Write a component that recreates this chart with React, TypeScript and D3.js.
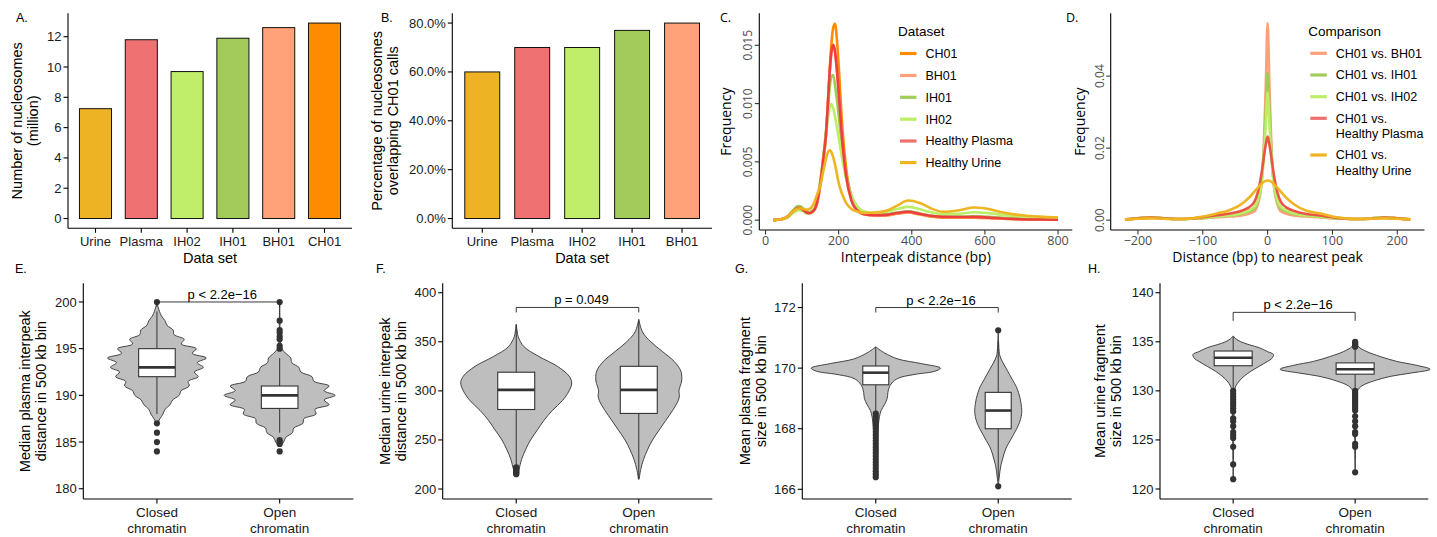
import React from "react";
import * as d3 from "d3";

const SANS = "'Liberation Sans', Arial, Helvetica, sans-serif";
const ALT = "'Open Sans', 'Liberation Sans', sans-serif";
const INK = "#1a1a1a";
const P_SMALL = "p < 2.2e\u221216";

// ---------- A / B: bars ----------
const setsA = ["Urine", "Plasma", "IH02", "IH01", "BH01", "CH01"];
const nucleosomesMillion = [7.25, 11.8, 9.7, 11.9, 12.6, 12.9];
const ticksA = [0, 2, 4, 6, 8, 10, 12];

const setsB = ["Urine", "Plasma", "IH02", "IH01", "BH01"];
const overlapPct = [60, 70, 70, 77, 80];
const ticksB = [0, 20, 40, 60, 80];

const barFill: Record<string, string> = {
  Urine: "#EEB324",
  Plasma: "#F07171",
  IH02: "#C0EE6A",
  IH01: "#A3CB5B",
  BH01: "#FFA27A",
  CH01: "#FF8C00",
};

// ---------- C: interpeak distance density (x 0.001) ----------
const interpeakBp = [22, 40, 60, 75, 90, 100, 110, 120, 130, 140, 150, 160, 165, 170, 175, 180, 185, 190, 195, 200, 210, 220, 235, 250, 270, 300, 330, 360, 390, 420, 450, 485, 530, 570, 610, 650, 700, 750, 800];
const freqCH01 = [0, 0.05, 0.3, 0.75, 1.05, 0.95, 0.75, 0.65, 0.75, 1.35, 3.0, 5.6, 7.2, 9.8, 12.6, 15.0, 16.5, 16.85, 15.6, 13.3, 8.0, 4.6, 1.9, 0.9, 0.5, 0.4, 0.4, 0.55, 0.65, 0.5, 0.32, 0.22, 0.2, 0.22, 0.18, 0.12, 0.08, 0.05, 0.04];
const freqBH01 = [0, 0.05, 0.3, 0.75, 1.05, 0.95, 0.72, 0.62, 0.75, 1.35, 3.1, 5.7, 7.1, 9.5, 12.3, 14.3, 14.9, 14.4, 12.9, 10.9, 6.7, 3.8, 1.65, 0.82, 0.48, 0.4, 0.42, 0.58, 0.68, 0.52, 0.35, 0.25, 0.24, 0.25, 0.2, 0.13, 0.08, 0.05, 0.03];
const freqIH01 = [0, 0.05, 0.3, 0.85, 1.2, 1.1, 0.8, 0.7, 0.85, 1.6, 3.4, 6.0, 7.5, 9.3, 11.2, 12.3, 12.45, 11.6, 10.4, 9.0, 6.2, 4.0, 2.1, 1.2, 0.7, 0.5, 0.5, 0.65, 0.75, 0.6, 0.4, 0.3, 0.3, 0.32, 0.28, 0.2, 0.13, 0.1, 0.08];
const freqIH02 = [0, 0.04, 0.22, 0.6, 0.85, 0.8, 0.6, 0.55, 0.7, 1.5, 3.3, 5.9, 7.2, 8.6, 9.6, 9.95, 9.6, 8.9, 8.0, 7.1, 5.2, 3.6, 2.0, 1.15, 0.75, 0.6, 0.7, 0.95, 1.14, 0.95, 0.7, 0.52, 0.55, 0.68, 0.6, 0.45, 0.32, 0.25, 0.2];
const freqPlasma = [0, 0.05, 0.28, 0.75, 1.05, 0.95, 0.7, 0.6, 0.75, 1.4, 3.2, 5.8, 7.2, 9.6, 12.5, 14.4, 15.05, 14.5, 13.0, 11.0, 6.8, 3.9, 1.7, 0.85, 0.5, 0.42, 0.45, 0.62, 0.72, 0.55, 0.38, 0.28, 0.27, 0.28, 0.22, 0.14, 0.08, 0.05, 0.03];
const freqUrine = [0, 0.05, 0.28, 0.75, 1.0, 1.0, 0.9, 0.95, 1.3, 2.1, 3.0, 4.5, 5.2, 5.75, 6.0, 5.85, 5.4, 4.8, 4.0, 3.2, 2.2, 1.5, 0.95, 0.75, 0.62, 0.65, 0.8, 1.25, 1.68, 1.5, 1.05, 0.72, 0.85, 1.08, 0.95, 0.65, 0.42, 0.3, 0.23];
const ticksCx = [0, 200, 400, 600, 800];
const ticksCy = [0, 5, 10, 15];

// ---------- D: distance to nearest peak density (x 0.01) ----------
const offsetBp = [-220, -200, -180, -160, -140, -120, -100, -80, -60, -40, -30, -20, -15, -10, -6, -3, 0, 3, 6, 10, 15, 20, 30, 40, 60, 80, 100, 120, 140, 160, 180, 200, 220];
const nearBH01 = [0.02, 0.05, 0.08, 0.05, 0.03, 0.04, 0.05, 0.08, 0.1, 0.13, 0.17, 0.25, 0.45, 0.9, 2.0, 3.6, 5.47, 3.6, 2.0, 0.9, 0.45, 0.25, 0.17, 0.13, 0.1, 0.08, 0.05, 0.04, 0.03, 0.05, 0.08, 0.05, 0.02];
const nearIH01 = [0.02, 0.05, 0.08, 0.05, 0.03, 0.04, 0.06, 0.09, 0.12, 0.17, 0.23, 0.33, 0.5, 0.95, 1.85, 2.95, 4.09, 2.95, 1.85, 0.95, 0.5, 0.33, 0.23, 0.17, 0.12, 0.09, 0.06, 0.04, 0.03, 0.05, 0.08, 0.05, 0.02];
const nearIH02 = [0.02, 0.05, 0.08, 0.05, 0.03, 0.04, 0.06, 0.1, 0.13, 0.19, 0.26, 0.38, 0.55, 0.95, 1.7, 2.6, 3.55, 2.6, 1.7, 0.95, 0.55, 0.38, 0.26, 0.19, 0.13, 0.1, 0.06, 0.04, 0.03, 0.05, 0.08, 0.05, 0.02];
const nearPlasma = [0.02, 0.05, 0.07, 0.05, 0.03, 0.04, 0.08, 0.13, 0.18, 0.26, 0.34, 0.52, 0.78, 1.22, 1.72, 2.08, 2.32, 2.08, 1.72, 1.22, 0.78, 0.52, 0.34, 0.26, 0.17, 0.13, 0.08, 0.04, 0.03, 0.04, 0.07, 0.05, 0.02];
const nearUrine = [0.02, 0.04, 0.05, 0.04, 0.03, 0.04, 0.1, 0.18, 0.27, 0.45, 0.6, 0.8, 0.9, 1.0, 1.06, 1.09, 1.1, 1.09, 1.06, 1.0, 0.9, 0.8, 0.6, 0.45, 0.26, 0.19, 0.1, 0.05, 0.03, 0.04, 0.05, 0.04, 0.02];
const ticksDx = [-200, -100, 0, 100, 200];
const ticksDy = [0, 2, 4];

// ---------- E-H: violins ----------
type Violin = { ys: number[]; dens: number[]; q1: number; med: number; q3: number; lo: number; hi: number; out: number[] };
const chromatin = ["Closed", "Open"];

const eClosed: Violin = {
  ys: [200, 199.5, 199, 198.5, 198, 197.5, 197, 196.5, 196, 195.5, 195, 194.5, 194, 193.5, 193, 192.5, 192, 191.5, 191, 190.5, 190, 189.5, 189, 188.5, 188, 187.5, 187],
  dens: [0, 1, 2.5, 4.5, 8, 10, 16, 17, 27, 24, 39, 35, 49, 40, 46, 37, 41, 31, 32, 24, 22, 15.5, 13, 8, 6, 3, 0.5],
  q1: 192, med: 193, q3: 195, lo: 188, hi: 199, out: [200, 187, 186, 185, 184],
};
const eOpen: Violin = {
  ys: [200, 198, 196, 195, 194.5, 194, 193.5, 193, 192.5, 192, 191.5, 191, 190.5, 190, 189.5, 189, 188.5, 188, 187.5, 187, 186.5, 186, 185.5, 185, 184.5],
  dens: [0, 0.3, 0.5, 2, 6, 11, 12, 19, 21, 32, 34, 49, 44, 55, 44, 49, 35, 36, 24, 23, 14, 12.7, 6, 4, 0],
  q1: 188.6, med: 190, q3: 191, lo: 186, hi: 194, out: [200, 198, 197, 196.7, 196.3, 196, 195.3, 195, 185.2, 185, 184.8, 184],
};
const fClosed: Violin = {
  ys: [368, 360, 355, 345, 335, 325, 315, 308, 300, 290, 280, 270, 260, 250, 240, 230, 220, 215],
  dens: [0, 1, 2, 7.7, 22.7, 41, 52.7, 55.3, 52.7, 46, 36, 27.7, 21, 14.3, 9.3, 5.3, 2.7, 0.5],
  q1: 281, med: 301, q3: 319, lo: 224, hi: 367, out: [222, 221, 220, 219, 218, 217, 216, 215],
};
const fOpen: Violin = {
  ys: [373, 360, 350, 340, 330, 320, 310, 305, 300, 295, 290, 280, 270, 260, 250, 240, 230, 220, 210],
  dens: [0, 3.7, 12, 23.7, 35.3, 42, 42.7, 41.3, 40, 40.5, 39.3, 33.7, 27, 20.3, 13.7, 8.7, 4.7, 2, 0.3],
  q1: 277, med: 301, q3: 325, lo: 210, hi: 372, out: [],
};
const gClosed: Violin = {
  ys: [170.7, 170.5, 170.3, 170.15, 170.0, 169.9, 169.8, 169.7, 169.6, 169.4, 169.2, 169.0, 168.8, 168.6, 168.4, 168.0, 167.5, 167.0, 166.4],
  dens: [0, 8.7, 22, 45, 64, 58.7, 40, 25, 18.7, 13.7, 12, 11.3, 8.7, 5.3, 3.7, 2.3, 1.7, 1.3, 0.3],
  q1: 169.45, med: 169.85, q3: 170.07, lo: 168.55, hi: 170.7,
  out: [168.5, 168.4, 168.3, 168.2, 168.1, 168.0, 167.9, 167.8, 167.7, 167.6, 167.5, 167.4, 167.3, 167.2, 167.1, 167.0, 166.9, 166.8, 166.7, 166.6, 166.5, 166.4],
};
const gOpen: Violin = {
  ys: [171.25, 170.6, 170.4, 170.2, 170.0, 169.8, 169.6, 169.4, 169.2, 169.0, 168.8, 168.6, 168.4, 168.2, 168.0, 167.8, 167.6, 167.4, 167.2, 167.0, 166.8, 166.6, 166.4, 166.1],
  dens: [0, 0.8, 1.7, 4.3, 7.7, 11, 14.3, 17.7, 20, 21.7, 22.7, 23.3, 22.7, 21, 18.3, 15, 11.7, 8.3, 6, 4.3, 2.7, 1.7, 1, 0],
  q1: 168.0, med: 168.6, q3: 169.2, lo: 166.3, hi: 170.9, out: [171.25, 166.1],
};
const hClosed: Violin = {
  ys: [135.6, 135.3, 135, 134.7, 134.4, 134, 133.7, 133.3, 133, 132.5, 132, 131.5, 131, 130.5, 130, 129, 127, 125, 123, 121],
  dens: [0, 2.7, 7.7, 16, 26, 34.3, 40.3, 38.7, 34.3, 26, 17.7, 11, 6, 2.7, 1.3, 0.8, 0.6, 0.5, 0.3, 0.1],
  q1: 132.56, med: 133.38, q3: 134.06, lo: 130.3, hi: 135.5,
  out: [130.0, 129.7, 129.4, 129.1, 128.8, 128.5, 128.2, 127.9, 127.2, 126.9, 126.4, 125.8, 125.5, 125.2, 124.3, 122.5, 121.0],
};
const hOpen: Violin = {
  ys: [135, 134.5, 134, 133.5, 133, 132.6, 132.2, 131.8, 131.5, 131, 130.5, 130, 129, 127, 125, 123, 121.6],
  dens: [0.5, 3.3, 11.7, 25, 41.7, 61.7, 75, 55, 36.7, 18.3, 6.7, 2.3, 1, 0.6, 0.4, 0.3, 0],
  q1: 131.7, med: 132.2, q3: 132.85, lo: 130.2, hi: 134.4,
  out: [134.5, 134.6, 134.7, 134.8, 134.9, 135.0, 130.0, 129.8, 129.6, 129.4, 129.2, 129.0, 128.8, 128.6, 128.4, 128.2, 128.0, 127.4, 126.9, 126.4, 125.8, 125.6, 124.6, 124.3, 121.7],
};

// ---------- shared bits ----------
const TICK = 4.5;

function AxisFrame({ left, right, top, bottom }: any) {
  return (
    <g stroke="#000" strokeWidth={1.1} fill="none">
      <line x1={left} x2={left} y1={top} y2={bottom} />
      <line x1={left} x2={right} y1={bottom} y2={bottom} />
    </g>
  );
}

function YTitle({ x, y, lines, gap = 16, size = 14.5, font = SANS }: any) {
  return (
    <text transform={`translate(${x},${y}) rotate(-90)`} textAnchor="middle" fontFamily={font} fontSize={size} fill="#000">
      {lines.map((l: string, i: number) => (
        <tspan key={i} x={0} y={(i - (lines.length - 1) / 2) * gap + size * 0.35}>{l}</tspan>
      ))}
    </text>
  );
}

function BarPanel({ cats, values, left, right, top, bottom, ticks, fmt, letter, letterX, title, titleX }: any) {
  const x = d3.scaleBand<string>().domain(cats).range([left, right]).paddingInner(0.3).paddingOuter(0.25);
  const mx = d3.max(values as number[])!;
  const y = d3.scaleLinear().domain([-mx * 0.05, mx * 1.05]).range([bottom, top]);
  return (
    <g fontFamily={SANS}>
      {cats.map((c: string, i: number) => (
        <rect key={c} x={x(c)} y={y(values[i])} width={x.bandwidth()} height={y(0) - y(values[i])}
          fill={barFill[c]} stroke="#111" strokeWidth={1} />
      ))}
      <AxisFrame left={left} right={right} top={top} bottom={bottom} />
      {ticks.map((t: number) => (
        <g key={t}>
          <line x1={left - TICK} x2={left} y1={y(t)} y2={y(t)} stroke="#000" strokeWidth={1.1} />
          <text x={left - 6.5} y={y(t)} dy="0.35em" textAnchor="end" fontSize={13} fill={INK}>{fmt(t)}</text>
        </g>
      ))}
      {cats.map((c: string) => {
        const cx = x(c)! + x.bandwidth() / 2;
        return (
          <g key={c}>
            <line x1={cx} x2={cx} y1={bottom} y2={bottom + TICK} stroke="#000" strokeWidth={1.1} />
            <text x={cx} y={246} textAnchor="middle" fontSize={13} fill={INK}>{c}</text>
          </g>
        );
      })}
      <text x={(left + right) / 2} y={263} textAnchor="middle" fontSize={14.5}>Data set</text>
      <YTitle x={titleX} y={(top + bottom) / 2} lines={title} />
      <text x={letterX} y={22} fontSize={12.5}>{letter}</text>
    </g>
  );
}

type Series = { name: string; values: number[]; color: string; key: string; label: string[] };

function DensityPanel({ xs, series, left, right, top, bottom, xDomain, yMax, xTicks, yTicks, yFmt, xFmt, xTitle, letter, letterX, yTitleX, legend }: any) {
  const x = d3.scaleLinear().domain(xDomain).range([left, right]);
  const y = d3.scaleLinear().domain([-yMax * 0.05, yMax * 1.05]).range([bottom, top]);
  const line = d3.line<number>().x((_, i) => x(xs[i])).y((v) => y(v)).curve(d3.curveMonotoneX);
  return (
    <g>
      {series.map((s: Series) => (
        <path key={s.name} d={line(s.values)!} fill="none" stroke={s.color} strokeWidth={2.6} strokeLinejoin="round" />
      ))}
      <AxisFrame left={left} right={right} top={top} bottom={bottom} />
      {yTicks.map((t: number) => (
        <g key={t}>
          <line x1={left - TICK} x2={left} y1={y(t)} y2={y(t)} stroke="#333" strokeWidth={1.1} />
          <text transform={`translate(${left - 7},${y(t)}) rotate(-90)`} textAnchor="middle" fontFamily={ALT} fontSize={12} fill="#4d4d4d">{yFmt(t)}</text>
        </g>
      ))}
      {xTicks.map((t: number) => (
        <g key={t}>
          <line x1={x(t)} x2={x(t)} y1={bottom} y2={bottom + TICK} stroke="#333" strokeWidth={1.1} />
          <text x={x(t)} y={245} textAnchor="middle" fontFamily={ALT} fontSize={12.5} fill="#4d4d4d">{xFmt(t)}</text>
        </g>
      ))}
      <text x={(left + right) / 2} y={262} textAnchor="middle" fontFamily={ALT} fontSize={14}>{xTitle}</text>
      <YTitle x={yTitleX} y={(top + bottom) / 2} lines={["Frequency"]} font={ALT} size={14} />
      <text x={letterX} y={22} fontFamily={ALT} fontSize={12.5}>{letter}</text>
      <g fontFamily={SANS}>
        <text x={legend.x} y={legend.titleY} dy="0.35em" fontSize={13.5}>{legend.title}</text>
        {series.map((s: Series, i: number) => {
          const cy = legend.ys[i];
          return (
            <g key={s.name}>
              <line x1={legend.x + 2} x2={legend.x + 18.5} y1={cy} y2={cy} stroke={s.key} strokeWidth={3.2} />
              {s.label.map((l, j) => (
                <text key={j} x={legend.x + 27.5} y={cy + j * 15.5} dy="0.35em" fontSize={12.5}>{l}</text>
              ))}
            </g>
          );
        })}
      </g>
    </g>
  );
}

function ViolinPanel({ groups, domain, ticks, left, right, top, bottom, halfMax, boxHalf, bracket, tip, pText, title, titleX, letter, letterX }: any) {
  const x = d3.scalePoint<string>().domain(chromatin).range([left, right]).padding(0.6);
  const y = d3.scaleLinear().domain(domain).range([bottom, top]);
  const dmax = d3.max(groups as Violin[], (g) => d3.max(g.dens))!;
  const w = d3.scaleLinear().domain([0, dmax]).range([0, halfMax]);
  const cxs = chromatin.map((c) => x(c)!);
  return (
    <g fontFamily={SANS}>
      {(groups as Violin[]).map((v, gi) => {
        const cx = cxs[gi];
        const area = d3.area<number>()
          .y((_, i) => y(v.ys[i]))
          .x0((d) => cx - w(d))
          .x1((d) => cx + w(d))
          .curve(d3.curveCatmullRom.alpha(0.5));
        return (
          <g key={gi}>
            <path d={area(v.dens)!} fill="#BEBEBE" stroke="#333" strokeWidth={0.9} />
            <line x1={cx} x2={cx} y1={y(v.hi)} y2={y(v.q3)} stroke="#333" strokeWidth={1} />
            <line x1={cx} x2={cx} y1={y(v.q1)} y2={y(v.lo)} stroke="#333" strokeWidth={1} />
            <rect x={cx - boxHalf} y={y(v.q3)} width={boxHalf * 2} height={y(v.q1) - y(v.q3)} fill="#fff" stroke="#333" strokeWidth={1.1} />
            <line x1={cx - boxHalf} x2={cx + boxHalf} y1={y(v.med)} y2={y(v.med)} stroke="#333" strokeWidth={2.6} />
            {v.out.map((o, k) => (
              <circle key={k} cx={cx} cy={y(o)} r={3.1} fill="#333" />
            ))}
          </g>
        );
      })}
      <path d={`M${cxs[0]},${y(bracket) + tip}V${y(bracket)}H${cxs[1]}V${y(bracket) + tip}`} fill="none" stroke="#222" strokeWidth={0.9} />
      <text x={(cxs[0] + cxs[1]) / 2 + 4} y={y(bracket) - 3} textAnchor="middle" fontSize={13}>{pText}</text>
      <AxisFrame left={left} right={right} top={top} bottom={bottom} />
      {ticks.map((t: number) => (
        <g key={t}>
          <line x1={left - TICK} x2={left} y1={y(t)} y2={y(t)} stroke="#000" strokeWidth={1.1} />
          <text x={left - 6.5} y={y(t)} dy="0.35em" textAnchor="end" fontSize={13} fill={INK}>{t}</text>
        </g>
      ))}
      {chromatin.map((c, i) => (
        <g key={c}>
          <line x1={cxs[i]} x2={cxs[i]} y1={bottom} y2={bottom + TICK} stroke="#000" strokeWidth={1.1} />
          <text x={cxs[i]} y={517} textAnchor="middle" fontSize={13.5} fill={INK}>{c}</text>
          <text x={cxs[i]} y={533} textAnchor="middle" fontSize={13.5} fill={INK}>chromatin</text>
        </g>
      ))}
      <YTitle x={titleX} y={(top + bottom) / 2} lines={title} />
      <text x={letterX} y={273} fontSize={12.5}>{letter}</text>
    </g>
  );
}

export default function App() {
  const lineC: Series[] = [
    { name: "CH01", values: freqCH01, color: "#FF8C00", key: "#FF8C00", label: ["CH01"] },
    { name: "BH01", values: freqBH01, color: "#FFA07A", key: "#FFA07A", label: ["BH01"] },
    { name: "IH01", values: freqIH01, color: "#9FCB55", key: "#A2CD5A", label: ["IH01"] },
    { name: "IH02", values: freqIH02, color: "#BCEE68", key: "#BCEE68", label: ["IH02"] },
    { name: "Plasma", values: freqPlasma, color: "#EE3E3E", key: "#F07070", label: ["Healthy Plasma"] },
    { name: "Urine", values: freqUrine, color: "#EEB422", key: "#EEB422", label: ["Healthy Urine"] },
  ];
  const lineD: Series[] = [
    { name: "BH01", values: nearBH01, color: "#FFA07A", key: "#FFA07A", label: ["CH01 vs. BH01"] },
    { name: "IH01", values: nearIH01, color: "#9FCB55", key: "#A2CD5A", label: ["CH01 vs. IH01"] },
    { name: "IH02", values: nearIH02, color: "#BCEE68", key: "#BCEE68", label: ["CH01 vs. IH02"] },
    { name: "Plasma", values: nearPlasma, color: "#EA5546", key: "#F07070", label: ["CH01 vs.", "Healthy Plasma"] },
    { name: "Urine", values: nearUrine, color: "#EEB422", key: "#EEB422", label: ["CH01 vs.", "Healthy Urine"] },
  ];
  const top = 13.3, bottom = 228.3, vTop = 283.3, vBottom = 499;
  return (
    <svg width={1437} height={537} viewBox="0 0 1437 537" style={{ position: "absolute", left: 0, top: 0, background: "#fff" }}>
      <rect width={1437} height={537} fill="#fff" />
      <BarPanel cats={setsA} values={nucleosomesMillion} left={68} right={352} top={top} bottom={bottom}
        ticks={ticksA} fmt={(t: number) => `${t}`} letter="A." letterX={16} title={["Number of nucleosomes", "(million)"]} titleX={25} />
      <BarPanel cats={setsB} values={overlapPct} left={452.3} right={712} top={top} bottom={bottom}
        ticks={ticksB} fmt={(t: number) => `${t.toFixed(1)}%`} letter="B." letterX={381} title={["Percentage of nucleosomes", "overlapping CH01 calls"]} titleX={385} />
      <DensityPanel xs={interpeakBp} series={lineC} left={759.3} right={1072.3} top={top} bottom={230}
        xDomain={[-17, 839]} yMax={16.9} xTicks={ticksCx} yTicks={ticksCy}
        yFmt={(t: number) => (t / 1000).toFixed(3)} xFmt={(t: number) => `${t}`}
        xTitle="Interpeak distance (bp)" letter="C." letterX={720} yTitleX={726}
        legend={{ x: 898, title: "Dataset", titleY: 31.7, ys: [53.5, 75.5, 97.3, 119.2, 141, 162.6] }} />
      <DensityPanel xs={offsetBp} series={lineD} left={1110.7} right={1424.5} top={top} bottom={230}
        xDomain={[-242, 242]} yMax={5.47} xTicks={ticksDx} yTicks={ticksDy}
        yFmt={(t: number) => (t / 100).toFixed(2)} xFmt={(t: number) => (t < 0 ? `\u2212${-t}` : `${t}`)}
        xTitle="Distance (bp) to nearest peak" letter="D." letterX={1066} yTitleX={1080}
        legend={{ x: 1308.3, title: "Comparison", titleY: 31.7, ys: [53.3, 75, 96.7, 118.3, 155] }} />
      <ViolinPanel groups={[eClosed, eOpen]} domain={[178.9, 202.0]} ticks={[180, 185, 190, 195, 200]}
        left={83.3} right={353.3} top={vTop} bottom={vBottom} halfMax={55.5} boxHalf={18.3}
        bracket={200} tip={5} pText={P_SMALL} title={["Median plasma interpeak", "distance in 500 kb bin"]} titleX={33} letter="E." letterX={15} />
      <ViolinPanel groups={[fClosed, fOpen]} domain={[189.8, 409.6]} ticks={[200, 250, 300, 350, 400]}
        left={442.7} right={712.3} top={vTop} bottom={vBottom} halfMax={55.5} boxHalf={18.5}
        bracket={385} tip={5} pText="p = 0.049" title={["Median urine interpeak", "distance in 500 kb bin"]} titleX={392.5} letter="F." letterX={376} />
      <ViolinPanel groups={[gClosed, gOpen]} domain={[165.68, 172.8]} ticks={[166, 168, 170, 172]}
        left={802.3} right={1071.7} top={vTop} bottom={vBottom} halfMax={64.7} boxHalf={13}
        bracket={172} tip={5} pText={P_SMALL} title={["Mean plasma fragment", "size in 500 kb bin"]} titleX={752.5} letter="G." letterX={735} />
      <ViolinPanel groups={[hClosed, hOpen]} domain={[118.98, 140.96]} ticks={[120, 125, 130, 135, 140]}
        left={1160} right={1428.3} top={vTop} bottom={vBottom} halfMax={75} boxHalf={19}
        bracket={138} tip={8.5} pText={P_SMALL} title={["Mean urine fragment", "size in 500 kb bin"]} titleX={1107.5} letter="H." letterX={1088} />
    </svg>
  );
}
